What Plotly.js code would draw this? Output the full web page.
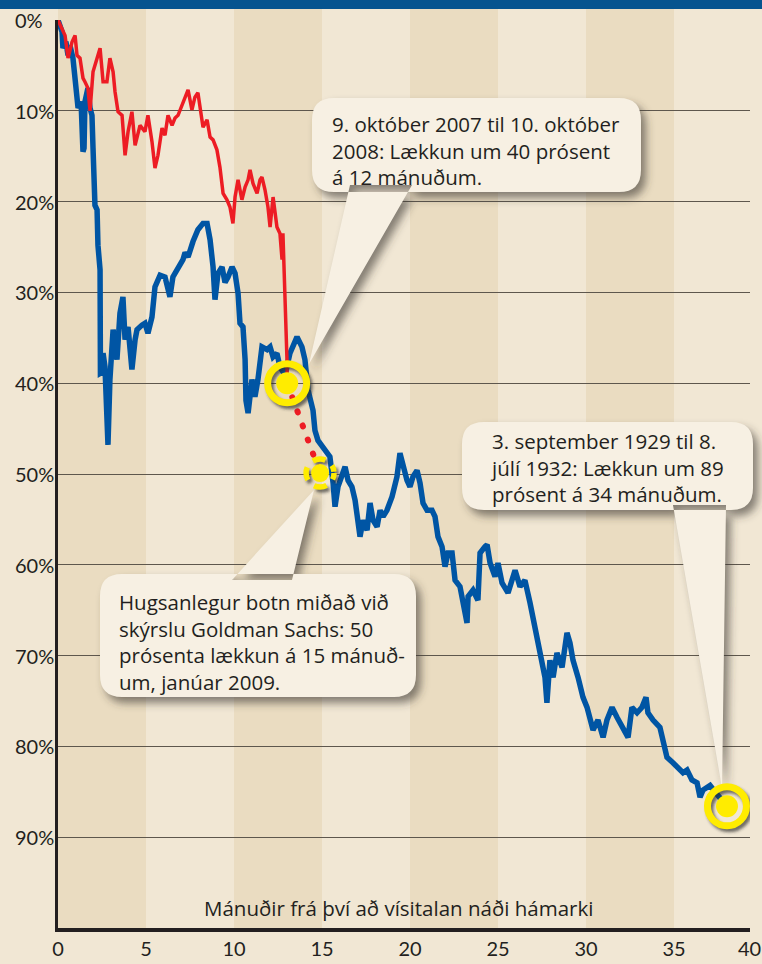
<!DOCTYPE html>
<html>
<head>
<meta charset="utf-8">
<script src="https://cdn.plot.ly/plotly-3.0.1.min.js"></script>
<style>
  html, body { margin: 0; padding: 0; background: #f1e7d4; }
  #chart { width: 762px; height: 964px; }
</style>
</head>
<body>
<div id="chart"></div>
<script>
// ---------- DATA (months since peak, % decline from peak) ----------
const blueMonths = [0, 0.23, 0.28, 0.45, 0.57, 0.68, 0.85, 0.97, 1.08, 1.14,
  1.31, 1.42, 1.48, 1.53, 1.70, 1.82, 1.93, 1.99, 2.10, 2.22,
  2.27, 2.39, 2.41, 2.50, 2.56, 2.67, 2.78, 2.84, 2.95, 3.13,
  3.35, 3.52, 3.69, 3.81, 3.98, 4.20, 4.38, 4.49, 4.77, 4.94,
  5.11, 5.34, 5.51, 5.80, 6.08, 6.36, 6.53, 6.82, 7.10, 7.22,
  7.39, 7.67, 7.95, 8.24, 8.47, 8.64, 8.81, 8.92, 9.09, 9.32,
  9.49, 9.66, 9.89, 10.06, 10.23, 10.34, 10.51, 10.63, 10.68, 10.80,
  11.02, 11.19, 11.36, 11.59, 11.88, 12.05, 12.22, 12.44, 12.61, 12.90,
  13.18, 13.58, 13.86, 14.03, 14.20, 14.49, 14.60, 14.77, 15.0, 15.28,
  15.45, 15.63, 15.74, 15.91, 16.14, 16.31, 16.48, 16.70, 16.88, 17.05,
  17.16, 17.33, 17.56, 17.73, 17.90, 18.13, 18.30, 18.47, 18.69, 18.98,
  19.15, 19.26, 19.43, 19.60, 19.83, 20.0, 20.17, 20.40, 20.57, 20.74,
  20.97, 21.25, 21.42, 21.59, 21.82, 21.99, 22.16, 22.39, 22.56, 22.84,
  23.01, 23.24, 23.30, 23.58, 23.86, 23.98, 24.26, 24.38, 24.55, 24.83,
  25.0, 25.23, 25.57, 25.97, 26.25, 26.53, 26.82, 26.99, 27.22, 27.39,
  27.67, 27.78, 27.95, 28.13, 28.35, 28.64, 28.92, 29.09, 29.26, 29.55,
  29.83, 30.06, 30.23, 30.40, 30.68, 30.97, 31.19, 31.48, 31.76, 32.10,
  32.39, 32.61, 32.90, 33.18, 33.41, 33.52, 33.81, 34.20, 34.38, 34.60,
  34.94, 35.23, 35.51, 35.74, 36.02, 36.31, 36.48, 36.65, 37.05, 37.50,
  38.01];
const blueDrop = [0, 1.3, 3.1, 2.4, 3.9, 2.8, 4.2, 6.8, 7.5, 9.7,
  9.0, 14.5, 14.1, 9.0, 7.5, 9.7, 10.5, 14.1, 20.4, 20.9,
  24.8, 27.5, 38.9, 38.8, 36.7, 38.2, 46.3, 46.8, 39.6, 34.1,
  37.4, 32.3, 30.5, 35.2, 33.8, 38.5, 35.2, 34.1, 33.6, 33.4,
  34.5, 32.7, 29.4, 28.1, 28.3, 30.5, 28.3, 27.2, 26.4, 25.6,
  26.1, 24.4, 23.1, 22.4, 22.4, 24.2, 27.2, 30.8, 27.9, 27.2,
  28.9, 28.3, 27.2, 27.9, 30.1, 33.4, 33.8, 37.4, 41.9, 43.3,
  39.6, 41.5, 39.6, 36.0, 36.3, 36.0, 37.1, 36.7, 38.2, 39.1,
  36.7, 34.9, 36.0, 37.4, 40.7, 43.0, 45.2, 46.3, 47.0, 47.7,
  48.1, 51.0, 53.6, 51.4, 49.9, 49.2, 50.7, 51.4, 52.9, 55.1,
  56.9, 55.1, 56.2, 53.2, 55.1, 55.8, 54.0, 54.7, 54.0, 52.5,
  51.0, 50.3, 47.7, 49.2, 50.7, 51.4, 50.3, 49.6, 51.0, 53.2,
  54.0, 54.0, 54.7, 56.9, 58.0, 60.2, 58.7, 58.7, 61.7, 62.4,
  64.2, 66.4, 63.5, 62.8, 63.9, 58.7, 58.0, 57.8, 59.8, 61.3,
  59.8, 62.0, 63.1, 60.6, 62.4, 61.7, 64.2, 65.7, 68.0, 69.7,
  72.4, 75.2, 70.5, 72.4, 69.7, 71.3, 67.5, 68.6, 70.5, 72.4,
  74.6, 75.7, 77.1, 78.2, 77.1, 79.0, 77.1, 75.7, 76.8, 77.9,
  79.0, 75.7, 76.3, 75.7, 74.6, 76.3, 77.1, 77.9, 79.3, 81.2,
  81.8, 82.3, 82.9, 82.6, 83.7, 84.0, 85.6, 84.8, 84.3, 85.4,
  86.6];

const redMonths = [0, 0.40, 0.57, 0.80, 0.97, 1.08, 1.25, 1.42, 1.53, 1.70,
  1.82, 1.93, 1.99, 2.22, 2.39, 2.56, 2.78, 2.95, 3.13, 3.24,
  3.41, 3.64, 3.81, 3.98, 4.20, 4.38, 4.66, 4.94, 5.11, 5.34,
  5.51, 5.68, 5.91, 6.08, 6.25, 6.48, 6.65, 6.82, 7.10, 7.39,
  7.61, 7.78, 7.95, 8.18, 8.24, 8.47, 8.64, 8.81, 9.03, 9.20,
  9.38, 9.60, 9.77, 9.94, 10.06, 10.23, 10.45, 10.63, 10.80, 10.91,
  11.08, 11.31, 11.48, 11.59, 11.76, 11.93, 12.05, 12.22, 12.44, 12.61,
  12.73, 12.78, 12.90, 13.01, 13.02];
const redDrop = [0, 1.7, 4.2, 2.4, 1.7, 3.9, 4.2, 6.4, 6.8, 7.5,
  10.0, 6.8, 5.7, 4.2, 3.1, 6.8, 6.8, 4.2, 5.7, 7.9,
  10.1, 10.5, 14.9, 12.3, 10.1, 13.8, 11.6, 12.3, 10.5, 13.4,
  16.3, 14.9, 11.9, 12.7, 10.5, 11.6, 10.8, 10.5, 9.0, 7.7,
  9.9, 8.5, 8.0, 10.7, 11.8, 11.0, 12.9, 13.2, 14.3, 16.2,
  19.1, 19.8, 20.6, 22.4, 19.5, 17.6, 19.8, 18.4, 17.6, 16.5,
  18.0, 19.1, 17.6, 17.3, 18.7, 20.6, 22.8, 19.5, 22.8, 23.5,
  26.4, 23.5, 30.1, 37.4, 40.0];

// projected path to the Goldman Sachs bottom
const projMonths = [13.02, 14.89];
const projDrop = [40.0, 49.9];

// highlighted points: 2007-08 decline, projected bottom, 1929-32 bottom
const hlMonths = [13.02, 14.89, 38.01];
const hlDrop = [40.0, 49.9, 86.6];

const xTicks = [0, 5, 10, 15, 20, 25, 30, 35];
const xLastTickLabel = '40';
const yTicks = [0, 10, 20, 30, 40, 50, 60, 70, 80, 90];
const bandStarts = [0, 10, 20, 30];
const xTitle = 'Mánuðir frá því að vísitalan náði hámarki';

const callout1 = ['9. október 2007 til 10. október', '2008: Lækkun um 40 prósent', 'á 12 mánuðum.'];
const callout2 = ['Hugsanlegur botn miðað við', 'skýrslu Goldman Sachs: 50', 'prósenta lækkun á 15 mánuð-', 'um, janúar 2009.'];
const callout3 = ['3. september 1929 til 8.', 'júlí 1932: Lækkun um 89', 'prósent á 34 mánuðum.'];

// ---------- LAYOUT GEOMETRY ----------
const W = 762, H = 964;
const L = 58, R = 750, T = 20, B = 928;
const XMAX = (R - L) / 17.6;
const FONT = '"Open Sans", Lato, sans-serif';
const TICKFONT = 'Lato, "Open Sans", sans-serif';
const TXT = '#231f20';
const LIGHT = '#f1e7d4', DARK = '#eadcc1', BOXFILL = '#f7f0e3';
const YELLOW = '#ffec00';
const TSIZE = 20.5;

const X = px => (px - L) / (R - L);   // pixel -> paper
const Y = py => (B - py) / (B - T);

function rr(x0, y0, x1, y1, r) {
  const p = (a, b) => X(a).toFixed(5) + ',' + Y(b).toFixed(5);
  return 'M' + p(x0 + r, y0) + ' L' + p(x1 - r, y0) + ' Q' + p(x1, y0) + ' ' + p(x1, y0 + r) +
    ' L' + p(x1, y1 - r) + ' Q' + p(x1, y1) + ' ' + p(x1 - r, y1) +
    ' L' + p(x0 + r, y1) + ' Q' + p(x0, y1) + ' ' + p(x0, y1 - r) +
    ' L' + p(x0, y0 + r) + ' Q' + p(x0, y0) + ' ' + p(x0 + r, y0) + ' Z';
}
function tri(a, b, c) {
  const p = (q) => X(q[0]).toFixed(5) + ',' + Y(q[1]).toFixed(5);
  return 'M' + p(a) + ' L' + p(b) + ' L' + p(c) + ' Z';
}
function callout(box, t, dx, dy) {
  const [x0, y0, x1, y1] = box;
  return rr(x0 + dx, y0 + dy, x1 + dx, y1 + dy, 22) + ' ' +
    tri([t[0][0] + dx, t[0][1] + dy], [t[1][0] + dx, t[1][1] + dy], [t[2][0] + dx, t[2][1] + dy]);
}

const boxes = [
  { box: [312, 98, 641, 192], tri: [[350, 185], [412, 185], [309, 364]], lines: callout1, tx: 330, ty: 150 },
  { box: [100, 574, 416, 697], tri: [[232, 580], [292, 580], [314, 490]], lines: callout2, tx: 117, ty: 641.5 },
  { box: [462, 422, 753, 510], tri: [[673, 505], [726, 505], [722, 788]], lines: callout3, tx: 488, ty: 467 }
];

const shapes = [];
const shadowIdx = [], ringShadowIdx = [];
// vertical bands
bandStarts.forEach(s => shapes.push({
  type: 'rect', xref: 'x', yref: 'paper', x0: s, x1: s + 5, y0: 0, y1: Y(9),
  fillcolor: DARK, line: { width: 0 }, layer: 'below'
}));
// top blue bar
shapes.push({ type: 'rect', xref: 'paper', yref: 'paper', x0: X(0), x1: X(W), y0: Y(9), y1: Y(-2),
  fillcolor: '#06548f', line: { width: 0 }, layer: 'above' });

// callouts
boxes.forEach(b => {
  shadowIdx.push(shapes.length);
  shapes.push({ type: 'path', xref: 'paper', yref: 'paper', path: callout(b.box, b.tri, 5, 6),
    fillcolor: 'rgba(60,55,50,0.6)', line: { width: 0 }, layer: 'above' });
  shapes.push({ type: 'path', xref: 'paper', yref: 'paper', path: callout(b.box, b.tri, 0, 0),
    fillcolor: BOXFILL, line: { width: 0 }, layer: 'above' });
});

// highlight circles (ring + dot), anchored on the data points
function pxCircle(i, r, dx, dy, extra) {
  return Object.assign({
    type: 'circle', xref: 'x', yref: 'y', xsizemode: 'pixel', ysizemode: 'pixel',
    xanchor: hlMonths[i], yanchor: hlDrop[i],
    x0: -r + dx, x1: r + dx, y0: -r - dy, y1: r - dy, layer: 'above'
  }, extra);
}
hlMonths.forEach((m, i) => {
  const dashed = (i === 1);
  const r = dashed ? 14 : 19.5, w = dashed ? 5.5 : 7, dotR = dashed ? 9 : 11;
  ringShadowIdx.push(shapes.length);
  shapes.push(pxCircle(i, r, 2.5, 3, { line: { color: 'rgba(40,40,40,0.65)', width: w,
    dash: dashed ? '6.5px,8.5px,13px,8.5px,13px,8.5px,13px,8.5px,6.5px' : 'solid' }, fillcolor: 'rgba(0,0,0,0)' }));
  shapes.push(pxCircle(i, r, 0, 0, { line: { color: YELLOW, width: w,
    dash: dashed ? '6.5px,8.5px,13px,8.5px,13px,8.5px,13px,8.5px,6.5px' : 'solid' }, fillcolor: 'rgba(0,0,0,0)' }));
  shapes.push(pxCircle(i, dotR, 0, 0, { line: { width: 0 }, fillcolor: YELLOW }));
});

const annotations = [];
yTicks.forEach(v => annotations.push({
  xref: 'paper', yref: 'y', x: X(13), y: v, xanchor: 'left', yanchor: 'middle',
  text: v + '%', showarrow: false, font: { family: TICKFONT, size: 20, color: TXT }
}));
annotations.push({ xref: 'paper', yref: 'paper', x: X(749), y: Y(948), xanchor: 'center', yanchor: 'middle',
  text: xLastTickLabel, showarrow: false, font: { family: TICKFONT, size: 20, color: TXT } });
annotations.push({ xref: 'paper', yref: 'paper', x: X(398), y: Y(908), xanchor: 'center', yanchor: 'middle',
  text: xTitle, showarrow: false, font: { family: FONT, size: TSIZE, color: TXT } });
boxes.forEach(b => annotations.push({
  xref: 'paper', yref: 'paper', x: X(b.tx), y: Y(b.ty), xanchor: 'left', yanchor: 'middle', align: 'left',
  text: b.lines.join('<br>'), showarrow: false, font: { family: FONT, size: TSIZE, color: TXT }
}));

const traces = [
  { x: blueMonths, y: blueDrop, mode: 'lines', line: { color: '#0055a4', width: 5.5 }, hoverinfo: 'skip' },
  { x: redMonths, y: redDrop, mode: 'lines', line: { color: '#ed1c24', width: 3.5 }, hoverinfo: 'skip' },
  { x: projMonths, y: projDrop, mode: 'lines', line: { color: '#ed1c24', width: 6, dash: '1px,14px' }, hoverinfo: 'skip' }
];

const layout = {
  width: W, height: H,
  margin: { l: L, r: W - R, t: T, b: H - B, pad: 0 },
  paper_bgcolor: LIGHT, plot_bgcolor: LIGHT,
  showlegend: false,
  font: { family: FONT, color: TXT },
  xaxis: {
    range: [0, XMAX], tickvals: xTicks, ticktext: xTicks.map(String),
    showgrid: false, zeroline: false, showline: true, linecolor: TXT, linewidth: 4,
    ticks: '', tickfont: { family: TICKFONT, size: 20, color: TXT }, fixedrange: true
  },
  yaxis: {
    range: [100, 0], tickvals: yTicks, showticklabels: false,
    showgrid: true, gridcolor: '#5e574d', gridwidth: 1,
    zeroline: false, showline: true, linecolor: TXT, linewidth: 3, ticks: '', fixedrange: true
  },
  shapes: shapes,
  annotations: annotations
};

Plotly.newPlot('chart', traces, layout, { staticPlot: true, displayModeBar: false }).then(gd => {
  const svg = gd.querySelector('.main-svg');
  const NS = 'http://www.w3.org/2000/svg';
  const defs = svg.querySelector('defs');
  function addBlur(id, sd) {
    const f = document.createElementNS(NS, 'filter');
    f.setAttribute('id', id);
    f.setAttribute('x', '-30%'); f.setAttribute('y', '-30%');
    f.setAttribute('width', '160%'); f.setAttribute('height', '160%');
    const b = document.createElementNS(NS, 'feGaussianBlur');
    b.setAttribute('stdDeviation', sd);
    f.appendChild(b);
    defs.appendChild(f);
  }
  addBlur('softshadow', '4');
  addBlur('ringblur', '1.8');
  gd.querySelectorAll('.shapelayer path[data-index]').forEach(p => {
    const idx = +p.getAttribute('data-index');
    if (shadowIdx.includes(idx)) p.setAttribute('filter', 'url(#softshadow)');
    if (ringShadowIdx.includes(idx)) p.setAttribute('filter', 'url(#ringblur)');
  });
  const tr = gd.querySelectorAll('.scatterlayer .trace');
  if (tr[2]) tr[2].querySelectorAll('path.js-line').forEach(p => p.style.strokeLinecap = 'round');
});
</script>
</body>
</html>
